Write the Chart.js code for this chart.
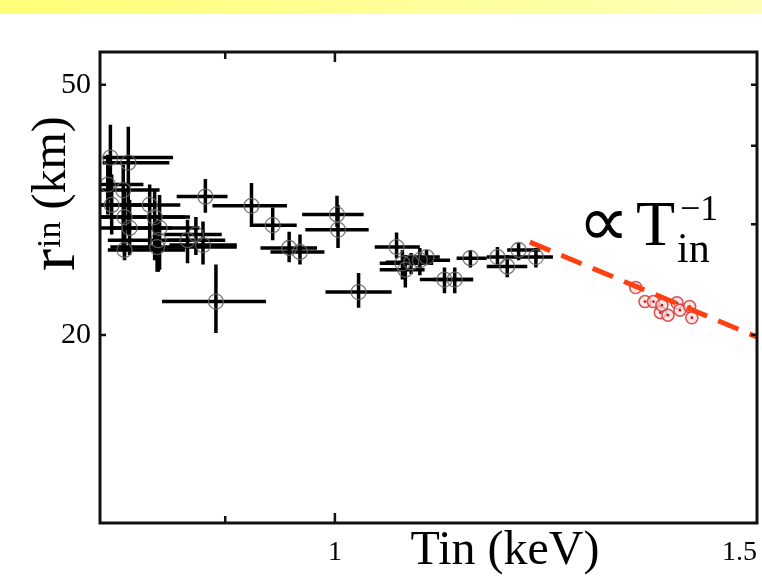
<!DOCTYPE html>
<html>
<head>
<meta charset="utf-8">
<script src="https://cdn.jsdelivr.net/npm/chart.js@4"></script>
<style>
  html, body { margin: 0; padding: 0; background: #fff; }
  #wrap { position: absolute; left: 0; top: 0; width: 762px; height: 585px; }
  #band { position: absolute; left: 0; top: 0; width: 762px; height: 14px;
          background: linear-gradient(90deg, #ffff78, #ffffb8); }
</style>
</head>
<body>
<div id="wrap"><canvas id="chart-rin" width="762" height="585"></canvas></div>
<div id="band"></div>
<script>
// black points: Tin (keV) with range, r_in (km) with range
var tinBlack = [0.806,0.820,0.804,0.816,0.807,0.837,0.817,0.841,0.821,0.845,0.843,0.817,0.844,0.883,0.892,0.923,0.942,0.957,0.967,0.868,0.875,0.881,1.002,1.003,1.023,1.061,1.067,1.070,1.085,1.092,1.111,1.122,1.139,1.169,1.180,1.193,1.213,1.076];
var tinLo    = [0.800,0.800,0.798,0.798,0.798,0.798,0.798,0.798,0.798,0.806,0.806,0.804,0.804,0.859,0.847,0.889,0.922,0.931,0.940,0.851,0.849,0.853,0.969,0.972,0.991,1.039,1.044,1.044,1.067,1.070,1.085,1.099,1.124,1.157,1.157,1.180,1.191,1.050];
var tinHi    = [0.856,0.853,0.832,0.845,0.841,0.862,0.866,0.870,0.855,0.878,0.910,0.866,0.870,0.902,0.936,0.955,0.964,0.983,0.990,0.900,0.897,0.910,1.028,1.033,1.056,1.085,1.099,1.090,1.117,1.106,1.142,1.142,1.157,1.191,1.203,1.218,1.233,1.095];
var rinBlack = [38.3,37.6,34.7,34.0,32.2,32.2,30.8,30.8,29.6,29.6,27.6,27.3,28.3,33.2,22.6,32.1,29.9,27.5,27.1,28.3,28.9,27.8,31.1,29.4,23.4,27.6,26.0,25.4,26.3,26.6,24.5,24.5,26.5,26.6,25.7,27.3,26.6,26.1];
var rinLo    = [32.8,28.9,31.1,27.3,28.9,27.3,26.8,26.3,26.8,25.4,25.2,26.3,25.2,31.3,20.15,29.7,28.3,26.1,25.9,26.0,26.8,25.9,29.7,27.5,22.1,26.5,24.5,23.8,24.9,25.9,23.3,23.3,25.6,25.6,24.7,26.3,25.6,25.0];
var rinHi    = [43.2,42.9,38.7,37.3,36.0,34.7,34.0,34.0,32.8,33.4,30.5,30.3,29.9,35.4,25.9,34.9,31.9,29.2,28.9,30.5,30.8,30.3,33.3,32.2,25.1,29.1,27.3,26.8,27.5,27.3,25.6,25.6,27.3,27.6,26.8,28.0,27.5,27.0];

// red points
var tinRed = [1.335,1.347,1.358,1.367,1.369,1.377,1.389,1.393,1.406,1.409];
var rinRed = [23.8,22.6,22.6,21.7,22.3,21.5,22.5,21.9,22.2,21.3];

// dashed T^-1 guide
var fitTin = [1.206, 1.5];
var fitRin = [28.1, 19.85];

// ticks
var xTicks = [0.9, 1, 1.5];
var xLabels = {1: '1', 1.5: '1.5'};
var yTicks = [20, 50];
var yTicksRight = [20, 30, 40, 50];

var serif = "'Liberation Serif', 'Times New Roman', serif";

function pts(xs, ys) {
  return xs.map(function (v, i) { return {x: v, y: ys[i]}; });
}

var errorBars = {
  id: 'errorBars',
  beforeDatasetsDraw: function (chart) {
    var ctx = chart.ctx, xs = chart.scales.x, ys = chart.scales.y, a = chart.chartArea;
    ctx.save();
    ctx.beginPath();
    ctx.rect(a.left, a.top, a.right - a.left, a.bottom - a.top);
    ctx.clip();
    ctx.strokeStyle = '#000';
    ctx.lineWidth = 3.5;
    for (var i = 0; i < tinBlack.length; i++) {
      var px = xs.getPixelForValue(tinBlack[i]), py = ys.getPixelForValue(rinBlack[i]);
      ctx.beginPath();
      ctx.moveTo(xs.getPixelForValue(tinLo[i]), py);
      ctx.lineTo(xs.getPixelForValue(tinHi[i]), py);
      ctx.moveTo(px, ys.getPixelForValue(rinLo[i]));
      ctx.lineTo(px, ys.getPixelForValue(rinHi[i]));
      ctx.stroke();
    }
    ctx.restore();
  }
};

var frame = {
  id: 'frame',
  afterDraw: function (chart) {
    var ctx = chart.ctx, a = chart.chartArea, xs = chart.scales.x, ys = chart.scales.y;
    ctx.save();
    ctx.strokeStyle = '#111';
    ctx.lineWidth = 3;
    ctx.strokeRect(a.left, a.top, a.right - a.left, a.bottom - a.top);

    // inward ticks
    ctx.lineWidth = 2.5;
    ctx.beginPath();
    xTicks.forEach(function (v) {
      if (v >= 1.5) return;
      var px = xs.getPixelForValue(v), len = v === 1 ? 10 : 7;
      ctx.moveTo(px, a.top); ctx.lineTo(px, a.top + len);
      ctx.moveTo(px, a.bottom); ctx.lineTo(px, a.bottom - len);
    });
    yTicks.forEach(function (v) {
      var py = ys.getPixelForValue(v);
      ctx.moveTo(a.left, py); ctx.lineTo(a.left + 6, py);
    });
    yTicksRight.forEach(function (v) {
      var py = ys.getPixelForValue(v);
      ctx.moveTo(a.right, py); ctx.lineTo(a.right - 6, py);
    });
    ctx.stroke();

    ctx.fillStyle = '#000';
    ctx.textBaseline = 'alphabetic';

    // x title
    ctx.textAlign = 'center';
    ctx.font = '48px ' + serif;
    ctx.fillText('Tin (keV)', 505, 564);

    // y title, rotated
    ctx.save();
    ctx.translate(74, 271);
    ctx.rotate(-Math.PI / 2);
    ctx.textAlign = 'left';
    ctx.font = '66px ' + serif;
    ctx.fillText('r', 0, 0);
    var w = ctx.measureText('r').width;
    ctx.font = '34px ' + serif;
    ctx.fillText('in', w + 1, -14);
    var w2 = w + 1 + ctx.measureText('in').width;
    ctx.font = '48px ' + serif;
    ctx.fillText(' (km)', w2, -9);
    ctx.restore();

    // annotation
    ctx.textAlign = 'left';
    ctx.font = '72px ' + serif;
    ctx.fillText('\u221D', 578, 246);
    ctx.font = '64px ' + serif;
    ctx.fillText('T', 636, 245);
    ctx.font = '42px ' + serif;
    ctx.fillText('in', 677, 262);
    ctx.font = '36px ' + serif;
    ctx.fillText('\u22121', 680, 220);
    ctx.restore();
  }
};

var config = {
  type: 'scatter',
  data: {
    datasets: [{
      type: 'line',
      data: pts(fitTin, fitRin),
      borderColor: '#ff4010',
      borderWidth: 5,
      borderDash: [22, 12],
      pointRadius: 0,
      order: 0
    }, {
      data: pts(tinRed, rinRed),
      pointRadius: 1.4,
      backgroundColor: '#c81e1e',
      borderWidth: 0,
      order: 1
    }, {
      data: pts(tinRed, rinRed),
      pointRadius: 6,
      borderColor: 'rgba(205,60,60,0.85)',
      borderWidth: 1.6,
      backgroundColor: 'rgba(255,215,215,0.6)',
      order: 2
    }, {
      data: pts(tinBlack, rinBlack),
      pointRadius: 7.5,
      borderColor: 'rgba(100,100,100,0.85)',
      borderWidth: 1.3,
      backgroundColor: 'rgba(0,0,0,0)',
      order: 3
    }]
  },
  options: {
    responsive: false,
    animation: false,
    layout: { autoPadding: false, padding: { left: 0, right: 5, top: 52, bottom: 0 } },
    plugins: { legend: { display: false }, tooltip: { enabled: false } },
    scales: {
      x: {
        type: 'logarithmic',
        min: 0.798,
        max: 1.5,
        grid: { display: false, drawTicks: false },
        border: { display: false },
        afterBuildTicks: function (s) { s.ticks = xTicks.map(function (v) { return {value: v}; }); },
        afterFit: function (s) { s.height = 62; s.paddingLeft = 0; s.paddingRight = 0; },
        ticks: {
          autoSkip: false,
          maxRotation: 0,
          align: 'inner',
          padding: 13,
          color: '#000',
          font: { family: serif, size: 28 },
          callback: function (v) { return xLabels[v] || ''; }
        }
      },
      y: {
        type: 'logarithmic',
        min: 10.04,
        max: 56.4,
        grid: { display: false, drawTicks: false },
        border: { display: false },
        afterBuildTicks: function (s) { s.ticks = yTicks.map(function (v) { return {value: v}; }); },
        afterFit: function (s) { s.width = 100; s.paddingTop = 0; s.paddingBottom = 0; },
        ticks: {
          autoSkip: false,
          padding: 9,
          color: '#000',
          font: { family: serif, size: 30 },
          callback: function (v) { return String(v); }
        }
      }
    }
  },
  plugins: [errorBars, frame]
};

var ctx = document.getElementById('chart-rin').getContext('2d');
new Chart(ctx, config);
</script>
</body>
</html>
